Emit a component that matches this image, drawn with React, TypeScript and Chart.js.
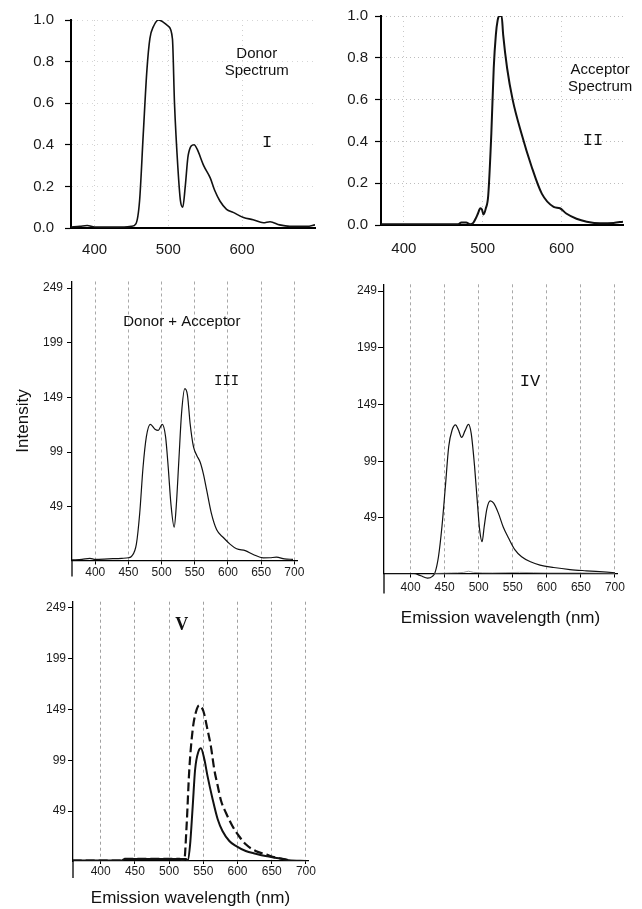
import React, { useEffect, useRef } from "react";
import { Chart, registerables } from "chart.js";
Chart.register(...registerables);

const SANS = "'Liberation Sans', Arial, sans-serif";
const MONO = "'Liberation Mono', 'DejaVu Sans Mono', monospace";
const SERIF = "'Liberation Serif', 'DejaVu Serif', serif";

// ---------- Panel I : donor spectrum (normalised) ----------
const WL_I = [368, 380, 390, 400, 420, 440, 450, 456, 461, 466, 471, 475, 480, 487, 493, 500, 505.6, 508.4, 513, 516.5, 519.6, 523, 527, 535, 539, 548, 557, 563, 570, 579, 588, 602, 615, 629, 638, 651, 665, 688, 699];
const INT_I = [0.005, 0.008, 0.012, 0.005, 0.004, 0.005, 0.008, 0.02, 0.13, 0.45, 0.76, 0.91, 0.97, 1.0, 0.99, 0.97, 0.91, 0.6, 0.29, 0.13, 0.1, 0.2, 0.35, 0.4, 0.38, 0.3, 0.24, 0.18, 0.13, 0.09, 0.075, 0.05, 0.04, 0.025, 0.03, 0.015, 0.008, 0.008, 0.015];

// ---------- Panel II : acceptor spectrum (normalised) ----------
const WL_II = [371, 400, 450, 469, 473, 479, 484, 488, 491, 494, 497, 499, 501, 504, 507, 511, 514, 516.7, 519, 521, 524, 526, 531, 538, 549, 562, 575, 590, 598, 606, 619, 632, 649, 666, 678];
const INT_II = [0.003, 0.003, 0.003, 0.004, 0.012, 0.012, 0.004, 0.01, 0.03, 0.055, 0.08, 0.075, 0.05, 0.08, 0.14, 0.44, 0.75, 0.91, 0.98, 1.0, 1.0, 0.91, 0.75, 0.6, 0.44, 0.28, 0.15, 0.087, 0.08, 0.055, 0.03, 0.016, 0.008, 0.01, 0.016];

// ---------- Panel III : donor + acceptor ----------
const WL_III = [365, 380, 392, 400, 420, 440, 450, 455, 462, 467, 472, 477, 483, 490, 495, 501, 506, 510, 514, 519, 522, 526, 530, 535, 539, 543, 548, 553, 558, 563, 568, 575, 583, 593, 603, 613, 626, 638, 653, 663, 673, 685, 698];
const INT_III = [0.5, 1, 2, 1, 1.5, 2, 2.5, 4, 15, 43, 85, 113, 124.5, 120, 119, 124.5, 113, 85, 52, 30.5, 49, 91.6, 134, 157, 151, 125, 104, 96, 90, 79, 64, 43, 28, 21, 15, 10.7, 9, 5.5, 2.4, 2.5, 3, 1.5, 1];

// ---------- Panel IV ----------
const WL_IV = [361, 405, 415, 425, 432, 436, 441, 446, 451, 456, 461, 466, 470, 475, 480, 485, 489, 494, 498, 501.5, 505, 508, 512, 517, 522, 529, 536, 544, 553, 563, 576, 590, 610, 634, 658, 688, 700];
const INT_IV = [0, 0, -2, -4, -2.5, 1, 15, 41, 76, 112, 126.5, 131, 127, 120, 126, 131.5, 123.5, 94, 63, 38, 28, 41, 57, 64, 62, 53, 41, 31, 21, 14.7, 10.3, 7.4, 5.3, 3.5, 2.4, 1.2, 0.6];
const WL_IV_B = [435, 460, 478, 485, 492, 520, 560, 600, 650, 700];
const INT_IV_B = [0, 0.5, 1, 2, 1, 0.5, 1, 0.5, 0.5, 0];

// ---------- Panel V ----------
const WL_V_SOLID = [359, 430, 435, 480, 525, 527, 530.5, 534.5, 538, 543, 546.5, 551.5, 556, 563.5, 571, 578, 588, 597.5, 612, 626.5, 641, 660.5, 675, 700];
const INT_V_SOLID = [0.5, 0.5, 2, 2, 2, 0, 15, 54, 90, 108, 111, 100, 84, 61, 41, 29.5, 19.7, 14.8, 9.8, 7.2, 4.9, 2.6, 0.7, 0];
const WL_V_DASH = [359, 430, 435, 515, 522, 525.5, 529.5, 534.5, 539, 544, 550, 556, 561, 566, 571, 576, 583, 592.5, 602, 612, 626.5, 641, 656, 670, 680, 700];
const INT_V_DASH = [0.5, 0.5, 2, 2, 0, 34, 90, 129.5, 146, 153, 147.5, 129.5, 113, 90, 74, 59, 47.5, 34.4, 24.6, 16.4, 9.8, 6.6, 3.3, 1.6, 0, 0];

// ---------- Ticks ----------
const X_TICKS_NORM = [400, 500, 600];
const Y_TICKS_NORM = [0, 0.2, 0.4, 0.6, 0.8, 1.0];
const X_TICKS_INT = [400, 450, 500, 550, 600, 650, 700];
const Y_TICKS_INT = [49, 99, 149, 199, 249];

const pts = (xs: number[], ys: number[]) => xs.map((x, i) => ({ x, y: ys[i] }));

const annotPlugin = {
  id: "annot",
  afterDatasetsDraw(chart: any, _a: any, opts: any) {
    const { ctx, chartArea } = chart;
    const xs = chart.scales.x;
    const ys = chart.scales.y;
    ctx.save();
    if (opts && opts.ext) {
      ctx.strokeStyle = "#000";
      ctx.lineWidth = opts.extWidth || 1.3;
      ctx.setLineDash([]);
      ctx.beginPath();
      ctx.moveTo(chartArea.left, chartArea.bottom);
      ctx.lineTo(chartArea.left, chartArea.bottom + opts.ext);
      ctx.stroke();
    }
    const items = (opts && opts.items) || [];
    for (const it of items) {
      ctx.font = it.font;
      ctx.fillStyle = "#111";
      ctx.textAlign = "center";
      ctx.textBaseline = "middle";
      const lines = String(it.text).split("\n");
      const px = xs.getPixelForValue(it.x);
      const py = ys.getPixelForValue(it.y);
      lines.forEach((l: string, i: number) => ctx.fillText(l, px, py + (i - (lines.length - 1) / 2) * (it.lh || 17)));
    }
    ctx.restore();
  },
};

type Spec = {
  datasets: any[];
  xMin: number; xMax: number; yMin: number; yMax: number;
  xTicks: number[]; yTicks: number[]; yFmt?: (v: number) => string;
  pad: { left: number; top: number; right: number; bottom: number };
  yW: number; xH: number; tickSize: number;
  yTickLen: number; yTickPad: number; xTickLen: number; xTickPad: number; xTickColor: string;
  gridX: { color: string; dash: number[] }; gridY: { color: string; dash: number[] } | null;
  border: number;
  xTitle?: { text: string; pb: number };
  yTitle?: { text: string; pt: number };
  annots: any[]; ext: number;
};

function makeConfig(s: Spec): any {
  return {
    type: "line",
    data: { datasets: s.datasets },
    plugins: [annotPlugin],
    options: {
      responsive: false,
      animation: false,
      devicePixelRatio: 1,
      layout: { padding: s.pad },
      elements: { point: { radius: 0 }, line: { cubicInterpolationMode: "monotone" } },
      plugins: {
        legend: { display: false },
        tooltip: { enabled: false },
        annot: { items: s.annots, ext: s.ext, extWidth: s.border },
      },
      scales: {
        x: {
          type: "linear",
          min: s.xMin,
          max: s.xMax,
          afterBuildTicks: (sc: any) => { sc.ticks = s.xTicks.map((v) => ({ value: v })); },
          afterFit: (sc: any) => { sc.height = s.xH; },
          ticks: {
            autoSkip: false, maxRotation: 0, minRotation: 0,
            padding: s.xTickPad, color: "#1a1a1a",
            font: { family: SANS, size: s.tickSize },
            callback: (v: any) => String(v),
          },
          grid: {
            display: true, drawOnChartArea: true, drawTicks: true,
            color: s.gridX.color, lineWidth: 1,
            tickLength: s.xTickLen, tickColor: s.xTickColor, tickBorderDash: [], tickWidth: 1,
          },
          border: { display: true, color: "#000", width: s.border, dash: s.gridX.dash },
          title: s.xTitle
            ? { display: true, text: s.xTitle.text, color: "#111", font: { family: SANS, size: 17 }, padding: { top: 0, bottom: s.xTitle.pb } }
            : { display: false },
        },
        y: {
          type: "linear",
          min: s.yMin,
          max: s.yMax,
          afterBuildTicks: (sc: any) => { sc.ticks = s.yTicks.map((v) => ({ value: v })); },
          afterFit: (sc: any) => { sc.width = s.yW; },
          ticks: {
            autoSkip: false, padding: s.yTickPad, color: "#1a1a1a",
            font: { family: SANS, size: s.tickSize },
            callback: (v: any) => (s.yFmt ? s.yFmt(Number(v)) : String(v)),
          },
          grid: s.gridY
            ? { display: true, drawOnChartArea: true, drawTicks: true, color: s.gridY.color, tickLength: s.yTickLen, tickColor: "#000", tickBorderDash: [], tickWidth: 1.2 }
            : { display: true, drawOnChartArea: false, drawTicks: true, tickLength: s.yTickLen, tickColor: "#000", tickBorderDash: [], tickWidth: 1 },
          border: { display: true, color: "#000", width: s.border, dash: s.gridY ? s.gridY.dash : [] },
          title: s.yTitle
            ? { display: true, text: s.yTitle.text, color: "#111", font: { family: SANS, size: 17 }, padding: { top: s.yTitle.pt, bottom: 0 } }
            : { display: false },
        },
      },
    },
  };
}

const lineDs = (xs: number[], ys: number[], extra: any = {}) => ({
  data: pts(xs, ys),
  borderColor: "#111",
  borderWidth: 1.3,
  fill: false,
  pointRadius: 0,
  ...extra,
});

const PANELS: { box: { x: number; y: number; w: number; h: number }; spec: Spec }[] = [
  {
    box: { x: 0, y: 0, w: 330, h: 262 },
    spec: {
      datasets: [lineDs(WL_I, INT_I, { borderWidth: 1.6 })],
      xMin: 368, xMax: 699, yMin: 0, yMax: 1, xTicks: X_TICKS_NORM, yTicks: Y_TICKS_NORM, yFmt: (v) => v.toFixed(1),
      pad: { left: 0, top: 15, right: 15, bottom: 0 }, yW: 71, xH: 34, tickSize: 15,
      yTickLen: 6, yTickPad: 11, xTickLen: 5, xTickPad: 8, xTickColor: "rgba(0,0,0,0)",
      gridX: { color: "#cfcfcf", dash: [1, 4] }, gridY: { color: "#d6d6d6", dash: [1, 4] }, border: 2,
      annots: [
        { text: "Donor\nSpectrum", x: 620, y: 0.795, font: `15px ${SANS}`, lh: 17 },
        { text: "I", x: 634, y: 0.413, font: `17px ${MONO}` },
      ],
      ext: 0,
    },
  },
  {
    box: { x: 320, y: 0, w: 322, h: 262 },
    spec: {
      datasets: [lineDs(WL_II, INT_II, { borderWidth: 2 })],
      xMin: 371, xMax: 678, yMin: 0, yMax: 1, xTicks: X_TICKS_NORM, yTicks: Y_TICKS_NORM, yFmt: (v) => v.toFixed(1),
      pad: { left: 0, top: 15, right: 19, bottom: 0 }, yW: 61, xH: 37, tickSize: 15,
      yTickLen: 6, yTickPad: 7, xTickLen: 5, xTickPad: 10, xTickColor: "rgba(0,0,0,0)",
      gridX: { color: "#c8c8c8", dash: [1, 4] }, gridY: { color: "#bdbdbd", dash: [1, 3] }, border: 2,
      annots: [
        { text: "Acceptor\nSpectrum", x: 649, y: 0.703, font: `15px ${SANS}`, lh: 17 },
        { text: "II", x: 640, y: 0.405, font: `17px ${MONO}` },
      ],
      ext: 0,
    },
  },
  {
    box: { x: 0, y: 265, w: 320, h: 320 },
    spec: {
      datasets: [lineDs(WL_III, INT_III, { borderWidth: 1.2 })],
      xMin: 365, xMax: 704, yMin: 0, yMax: 255, xTicks: X_TICKS_INT, yTicks: Y_TICKS_INT,
      pad: { left: 0, top: 16.5, right: 23, bottom: 0 }, yW: 72, xH: 24.5, tickSize: 12,
      yTickLen: 5, yTickPad: 4, xTickLen: 4, xTickPad: 1, xTickColor: "#000",
      gridX: { color: "#a8a8a8", dash: [3, 3] }, gridY: null, border: 1.3,
      yTitle: { text: "Intensity", pt: 13 },
      annots: [
        { text: "Donor + Acceptor", x: 530.5, y: 218, font: `15px ${SANS}` },
        { text: "III", x: 598, y: 163.5, font: `14px ${MONO}` },
      ],
      ext: 16,
    },
  },
  {
    box: { x: 320, y: 265, w: 322, h: 370 },
    spec: {
      datasets: [
        lineDs(WL_IV_B, INT_IV_B, { borderColor: "#9a9a9a", borderWidth: 1 }),
        lineDs(WL_IV, INT_IV, { borderWidth: 1.2, clip: false }),
      ],
      xMin: 361, xMax: 703, yMin: 0, yMax: 255, xTicks: X_TICKS_INT, yTicks: Y_TICKS_INT,
      pad: { left: 0, top: 19.3, right: 25, bottom: 0 }, yW: 64, xH: 61.5, tickSize: 12,
      yTickLen: 6, yTickPad: 1, xTickLen: 4, xTickPad: 3, xTickColor: "#000",
      gridX: { color: "#a8a8a8", dash: [3, 3] }, gridY: null, border: 1.3,
      xTitle: { text: "Emission wavelength (nm)", pb: 6.8 },
      annots: [{ text: "IV", x: 575.4, y: 169, font: `17px ${MONO}` }],
      ext: 20,
    },
  },
  {
    box: { x: 0, y: 585, w: 320, h: 324 },
    spec: {
      datasets: [
        lineDs(WL_V_SOLID, INT_V_SOLID, { borderWidth: 2 }),
        lineDs(WL_V_DASH, INT_V_DASH, { borderWidth: 2.2, borderDash: [9, 4] }),
      ],
      xMin: 359.5, xMax: 703, yMin: 0, yMax: 255, xTicks: X_TICKS_INT, yTicks: Y_TICKS_INT,
      pad: { left: 0, top: 16.7, right: 12, bottom: 0 }, yW: 73, xH: 48, tickSize: 12,
      yTickLen: 5, yTickPad: 2, xTickLen: 3, xTickPad: 0, xTickColor: "#000",
      gridX: { color: "#a0a0a0", dash: [3, 3] }, gridY: null, border: 1.3,
      xTitle: { text: "Emission wavelength (nm)", pb: 0.8 },
      annots: [{ text: "V", x: 518.4, y: 232, font: `bold 18px ${SERIF}` }],
      ext: 17,
    },
  },
];

function ChartPanel({ box, spec }: { box: { x: number; y: number; w: number; h: number }; spec: Spec }) {
  const ref = useRef<HTMLCanvasElement>(null);
  useEffect(() => {
    const chart = new Chart(ref.current as HTMLCanvasElement, makeConfig(spec));
    return () => chart.destroy();
  }, []);
  return (
    <canvas
      ref={ref}
      width={box.w}
      height={box.h}
      style={{ position: "absolute", left: box.x, top: box.y, width: box.w, height: box.h }}
    />
  );
}

export default function App() {
  return (
    <div style={{ position: "absolute", left: 0, top: 0, width: 642, height: 909, background: "#fff", overflow: "hidden" }}>
      {PANELS.map((p, i) => (
        <ChartPanel key={i} box={p.box} spec={p.spec} />
      ))}
    </div>
  );
}
